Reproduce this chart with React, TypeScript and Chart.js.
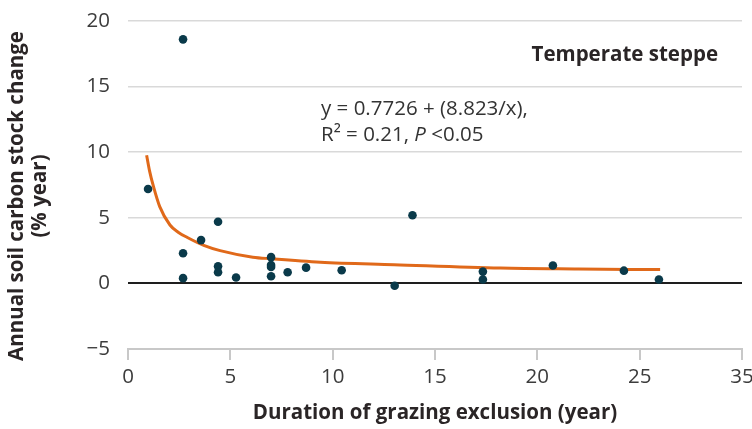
import React, { useEffect, useRef } from "react";
import { Chart, registerables } from "chart.js";

Chart.register(...registerables);

// Observed points (duration of grazing exclusion, annual SOC change)
const pointX = [0.98, 2.69, 2.69, 2.69, 3.57, 4.4, 4.4, 4.4, 5.28, 6.99, 6.99, 6.99, 6.99, 7.8, 8.7, 10.44, 13.03, 13.9, 17.34, 17.34, 20.76, 24.23, 25.94];
const pointY = [7.2, 18.6, 2.3, 0.4, 3.3, 4.7, 1.3, 0.85, 0.45, 2.0, 1.4, 1.25, 0.55, 0.85, 1.2, 1.0, -0.18, 5.2, 0.9, 0.3, 1.37, 0.97, 0.3];

// Fitted curve
const curveX = [0.91, 1.05, 1.25, 1.55, 2.05, 2.45, 2.9, 3.7, 4.5, 6.1, 7.0, 9.4, 13.0, 18.2, 22.0, 26.0];
const curveY = [9.77, 8.6, 7.35, 5.85, 4.45, 3.9, 3.5, 2.9, 2.5, 2.0, 1.88, 1.62, 1.43, 1.17, 1.1, 1.05];

const xTicks = [0, 5, 10, 15, 20, 25, 30];
const xTickLabels = ["0", "5", "10", "15", "20", "25", "35"];
const yTicks = [-5, 0, 5, 10, 15, 20];
const yTickLabels = ["\u22125", "0", "5", "10", "15", "20"];

const xTitle = "Duration of grazing exclusion (year)";
const yTitleLines = ["Annual soil carbon stock change", "(% year)"];
const panelLabel = "Temperate steppe";
const equationLine = "y = 0.7726 + (8.823/x),";
const statsParts = ["R\u00B2 = 0.21, ", "P", " <0.05"];

const FONT = "'Open Sans', 'Noto Sans', sans-serif";
const FS = 20.5;

const textPlugin = {
  id: "texts",
  afterDraw(chart: any) {
    const ctx = chart.ctx as CanvasRenderingContext2D;
    const area = chart.chartArea;
    ctx.save();
    // x title
    ctx.fillStyle = "#2a2526";
    ctx.font = `bold ${FS}px ${FONT}`;
    ctx.textAlign = "center";
    ctx.textBaseline = "middle";
    ctx.fillText(xTitle, (area.left + area.right) / 2, 413);
    // y title
    ctx.save();
    ctx.translate(17, 196);
    ctx.rotate(-Math.PI / 2);
    ctx.fillText(yTitleLines[0], 0, 0);
    ctx.restore();
    ctx.save();
    ctx.translate(40, 196);
    ctx.rotate(-Math.PI / 2);
    ctx.fillText(yTitleLines[1], 0, 0);
    ctx.restore();
    // panel label
    ctx.textAlign = "right";
    ctx.fillText(panelLabel, 718, 55);
    // equation
    ctx.fillStyle = "#333333";
    ctx.font = `${FS}px ${FONT}`;
    ctx.textAlign = "left";
    ctx.fillText(equationLine, 321, 109);
    let x = 321;
    const y2 = 135;
    ctx.fillText(statsParts[0], x, y2);
    x += ctx.measureText(statsParts[0]).width;
    ctx.font = `italic ${FS}px ${FONT}`;
    ctx.fillText(statsParts[1], x, y2);
    x += ctx.measureText(statsParts[1]).width;
    ctx.font = `${FS}px ${FONT}`;
    ctx.fillText(statsParts[2], x, y2);
    ctx.restore();
  },
};

export default function App() {
  const ref = useRef<HTMLCanvasElement>(null);
  useEffect(() => {
    if (!ref.current) return;
    const chart = new Chart(ref.current, {
      type: "scatter",
      data: {
        datasets: [
          {
            type: "scatter",
            data: pointX.map((x, i) => ({ x, y: pointY[i] })),
            backgroundColor: "#0a3a4a",
            borderColor: "#0a3a4a",
            pointRadius: 4.3,
            borderWidth: 0,
            order: 1,
          },
          {
            type: "line",
            data: curveX.map((x, i) => ({ x, y: curveY[i] })),
            borderColor: "#e0691a",
            borderWidth: 3,
            pointRadius: 0,
            fill: false,
            cubicInterpolationMode: "monotone",
            order: 2,
          } as any,
        ],
      },
      options: {
        responsive: false,
        animation: false,
        layout: { padding: { left: 0, top: 21, right: 10, bottom: 0 } },
        plugins: { legend: { display: false }, tooltip: { enabled: false } },
        scales: {
          x: {
            type: "linear",
            min: 0,
            max: 30,
            afterBuildTicks: (s: any) => {
              s.ticks = xTicks.map((v) => ({ value: v }));
            },
            afterFit: (s: any) => {
              s.height = 80;
              s.paddingLeft = 0;
              s.paddingRight = 0;
            },
            ticks: {
              callback: (v: any) => xTickLabels[xTicks.indexOf(Number(v))] ?? "",
              color: "#3c3c3c",
              font: { family: FONT, size: FS },
              padding: 5,
              maxRotation: 0,
            },
            grid: {
              drawOnChartArea: false,
              drawTicks: true,
              tickLength: 11,
              color: "#c8c8c8",
              lineWidth: 2,
            },
            border: { display: true, color: "#c8c8c8", width: 2 },
          },
          y: {
            type: "linear",
            min: -5,
            max: 20,
            afterBuildTicks: (s: any) => {
              s.ticks = yTicks.map((v) => ({ value: v }));
            },
            afterFit: (s: any) => {
              s.width = 128;
              s.paddingTop = 0;
              s.paddingBottom = 0;
            },
            ticks: {
              callback: (v: any) => yTickLabels[yTicks.indexOf(Number(v))] ?? "",
              color: "#3c3c3c",
              font: { family: FONT, size: FS },
              padding: 18,
            },
            grid: {
              drawTicks: false,
              color: (c: any) => (c.tick && c.tick.value === 0 ? "#1e1e1e" : c.tick && c.tick.value === -5 ? "#c8c8c8" : "#d9d9d9"),
              lineWidth: (c: any) => (c.tick && c.tick.value === 0 ? 2 : 1.5),
            },
            border: { display: false },
          },
        },
      },
      plugins: [textPlugin],
    } as any);
    return () => chart.destroy();
  }, []);
  return (
    <div style={{ position: "absolute", left: 0, top: 0, width: 752, height: 429, background: "#fff" }}>
      <canvas ref={ref} width={752} height={429} style={{ display: "block" }} />
    </div>
  );
}
